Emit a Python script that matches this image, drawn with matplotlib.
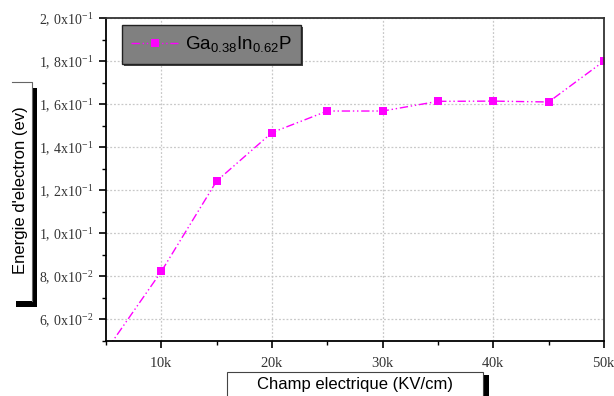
import matplotlib
matplotlib.use('Agg')
from matplotlib import pyplot as plt
from matplotlib import patheffects as pe
from matplotlib.patches import Rectangle
from matplotlib.lines import Line2D
from matplotlib.ticker import MultipleLocator, FuncFormatter

# champ electrique (V/cm) et energie (eV)
champ = [5000, 10000, 15000, 20000, 25000, 30000, 35000, 40000, 45000, 50000]
energie = [0.0455, 0.0823, 0.1243, 0.1468, 0.1568, 0.1568, 0.1613, 0.1614, 0.1610, 0.1800]
serie = r'Ga$_{\mathsf{0.38}}$In$_{\mathsf{0.62}}$P'

plt.rcParams['mathtext.fontset'] = 'custom'
plt.rcParams['mathtext.rm'] = 'Liberation Serif'
plt.rcParams['mathtext.sf'] = 'Liberation Sans'
plt.rcParams['font.family'] = ['Liberation Sans', 'DejaVu Sans']

W, H = 614, 396
fig = plt.figure(figsize=(W / 100, H / 100), dpi=100)
ax = fig.add_axes([106 / W, 1 - 341 / H, 498 / W, 323 / H])

ax.plot(champ, energie, color='#ff00ff', linewidth=1.0, linestyle=(0, (6, 2, 1, 2, 1, 2)),
        marker='s', markersize=6, markeredgewidth=0, label=serie)

ax.set_xlim(5000, 50000)
ax.set_ylim(0.05, 0.2)
ax.xaxis.set_major_locator(MultipleLocator(10000))
ax.xaxis.set_minor_locator(MultipleLocator(5000))
ax.yaxis.set_major_locator(MultipleLocator(0.02))
ax.yaxis.set_minor_locator(MultipleLocator(0.01))


def fmt_x(v, pos):
    return r'$\mathrm{%dk}$' % round(v / 1000)


def fmt_y(v, pos):
    e = -1 if v >= 0.0999 else -2
    m = v / 10 ** e
    a, b = ('%.1f' % m).split('.')
    return r'$\mathrm{%s{,}\ %sx10}^{%d}$' % (a, b, e)


ax.xaxis.set_major_formatter(FuncFormatter(fmt_x))
ax.yaxis.set_major_formatter(FuncFormatter(fmt_y))
ax.tick_params(axis='both', which='major', direction='out', length=5, width=1.2, labelsize=10,
               colors='black', labelcolor='#333333')
ax.tick_params(axis='x', which='major', pad=6, labelsize=10.5)
ax.tick_params(axis='y', which='major', pad=4)
ax.tick_params(axis='both', which='minor', direction='out', length=3, width=1.0)

ax.grid(True, which='major', color='#c8c8c8', linestyle=(0, (1.5, 1.5)), linewidth=0.9)
for s in ['left', 'bottom']:
    ax.spines[s].set_linewidth(1.3)
    ax.spines[s].set_color('black')
for s in ['top', 'right']:
    ax.spines[s].set_linewidth(1.3)
    ax.spines[s].set_color('#333333')

# legende grise
leg = ax.legend(loc='upper left', bbox_to_anchor=(16 / 498, 1 - 7 / 323), fontsize=13.5, frameon=True,
                fancybox=False, handlelength=2.5, borderpad=0.5, handletextpad=0.35, borderaxespad=0)
fr = leg.get_frame()
fr.set_facecolor('#808080')
fr.set_edgecolor('#222222')
fr.set_alpha(1)
fr.set_linewidth(1.0)
fr.set_path_effects([pe.SimplePatchShadow(offset=(1.5, -1.5), shadow_rgbFace='#444444', alpha=1), pe.Normal()])


def px(x0, y0, w, h):
    # rectangle en pixels depuis le coin haut-gauche
    return (x0 / W, 1 - (y0 + h) / H), w / W, h / H


# boite du titre y : ombre noire + fond blanc
xy, w, h = px(16, 88, 21, 219)
fig.add_artist(Rectangle(xy, w, h, transform=fig.transFigure, facecolor='black', edgecolor='none'))
xy, w, h = px(12, 82, 20, 219)
fig.add_artist(Rectangle(xy, w, h, transform=fig.transFigure, facecolor='white', edgecolor='none'))
fig.add_artist(Line2D([12 / W, 32 / W, 32 / W], [1 - 82 / H, 1 - 82 / H, 1 - 301 / H],
                      transform=fig.transFigure, color='#666666', linewidth=0.8))
fig.text(21 / W, 1 - 190 / H, "Energie d'electron (ev)", rotation=90, fontsize=12,
         ha='center', va='center')

# boite du titre x
xy, w, h = px(232, 375, 257, 30)
fig.add_artist(Rectangle(xy, w, h, transform=fig.transFigure, facecolor='black', edgecolor='none'))
xy, w, h = px(227, 372, 256, 30)
fig.add_artist(Rectangle(xy, w, h, transform=fig.transFigure, facecolor='white', edgecolor='#444444',
                         linewidth=0.8))
fig.text(355 / W, 1 - 385 / H, 'Champ electrique (KV/cm)', fontsize=12, ha='center', va='center')

fig.savefig('out.png', dpi=100)
